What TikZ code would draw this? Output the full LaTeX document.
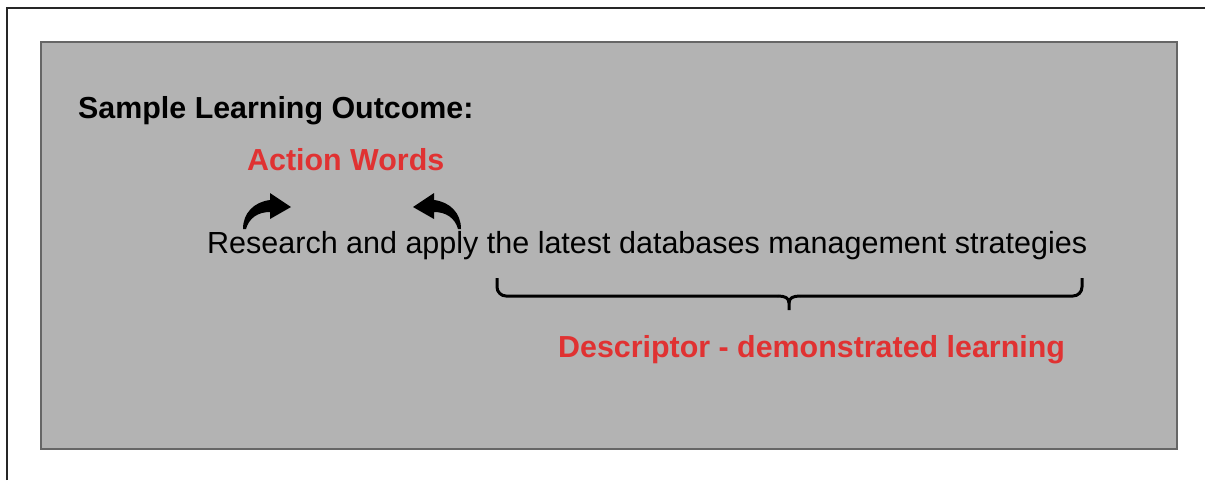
\documentclass[tikz,border=0pt]{standalone}
\usepackage{fontspec}
\setmainfont{Liberation Sans}
\definecolor{boxgray}{RGB}{179,179,179}
\definecolor{boxedge}{RGB}{102,102,102}
\definecolor{accent}{RGB}{224,50,50}
\tikzset{
  txt/.style={anchor=base west, inner sep=0pt, font=\fontsize{30.5}{36}\selectfont},
  boldtxt/.style={txt, font=\fontsize{30.4}{36}\selectfont\bfseries},
  redtxt/.style={boldtxt, text=accent},
  curlarrow/.style={fill=black, draw=none},
  bracepath/.style={line width=3pt, line cap=butt, line join=round},
}
\begin{document}
\begin{tikzpicture}[x=1pt,y=-1pt]
\useasboundingbox (0,0) rectangle (1205,480);
\fill[white] (0,0) rectangle (1205,480);
% outer frame
\draw[line width=2pt, black!85] (7,480) -- (7,8) -- (1205,8);
% grey panel
\draw[fill=boxgray, draw=boxedge, line width=1.5pt] (41,42) rectangle (1177,449);
% texts
\node[boldtxt] (title) at (78,118) {Sample Learning Outcome:};
\node[redtxt] (action) at (247,170) {Action Words};
\node[txt] (outcome) at (207,253) {Research and apply the latest databases management strategies};
\node[redtxt] (desc) at (558,357) {Descriptor - demonstrated learning};
% curved arrows
\fill[curlarrow] (243,229) .. controls (243,213) and (254,202) .. (270,200) -- (270,193) -- (291,207) -- (270,219) -- (270,212) .. controls (258,212) and (249,218) .. (246,229) -- cycle;
\fill[curlarrow] (461,229) .. controls (461,213) and (450,202) .. (434,200) -- (434,193) -- (413,207) -- (434,219) -- (434,212) .. controls (446,212) and (455,218) .. (458,229) -- cycle;
% brace
\draw[bracepath, rounded corners=9pt] (497,278) -- (497,296) -- (778,296);
\draw[bracepath] (778,296) .. controls (785,296) and (789,298) .. (789,303) -- (789,310);
\draw[bracepath] (800,296) .. controls (793,296) and (789,298) .. (789,303);
\draw[bracepath, rounded corners=9pt] (800,296) -- (1082,296) -- (1082,278);
\end{tikzpicture}
\end{document}
